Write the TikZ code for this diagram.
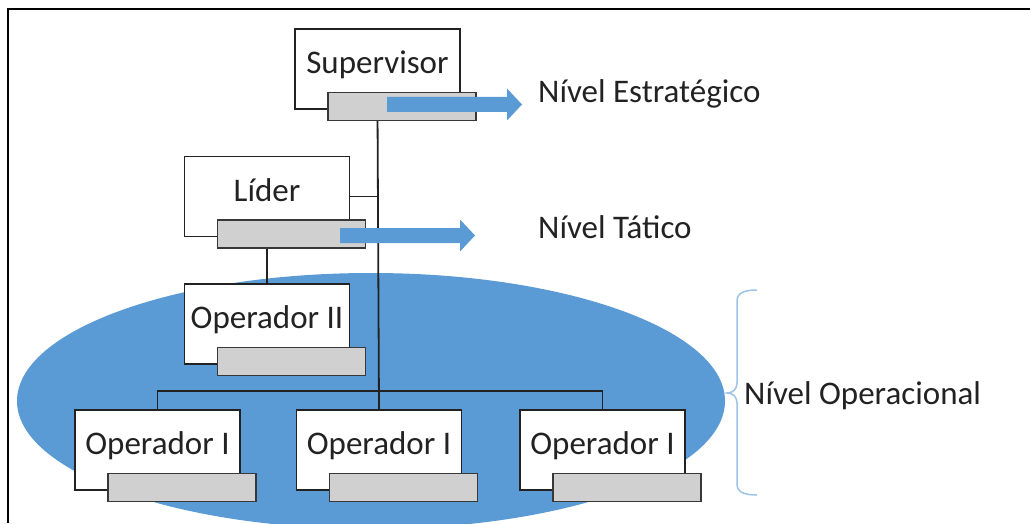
\documentclass[tikz,border=0pt]{standalone}
\usepackage{fontspec}
\setmainfont{Carlito}
\usetikzlibrary{positioning}
\definecolor{levelblue}{HTML}{5B9BD5}
\definecolor{bracecol}{HTML}{9DC3E6}
\definecolor{bargray}{HTML}{D0D0D0}
\definecolor{inkgray}{HTML}{222222}
\tikzset {
    node distance=55pt,
    every node/.style={font=\fontsize{33}{40}\selectfont, text=inkgray},
    post/.style={draw=inkgray, line width=1.5pt, fill=white, minimum width=165pt,
        minimum height=80pt, inner sep=2pt, text height=24pt, text depth=15pt},
    bar/.style={draw=inkgray!90, line width=1.6pt, fill=bargray,
        minimum width=148pt, minimum height=28pt, inner sep=0pt},
    link/.style={draw=inkgray, line width=1.8pt},
    level/.style={inner sep=0pt, anchor=base west},
    pics/levelarrow/.style={code={
        \fill[levelblue] (0,-7.5) -- (120,-7.5) -- (120,-16) -- (135,0)
            -- (120,16) -- (120,7.5) -- (0,7.5) -- cycle;}}
}

\begin{document}
\begin{tikzpicture}[x=1pt, y=1pt]
                        \useasboundingbox (0,0) rectangle (1030,523);
                        \fill[levelblue] (371,122) ellipse [x radius=354, y radius=128];
                        \draw[line width=2pt, black] (1030,514) -- (8,514) -- (8,0);

                        \node[post] (sup) at (377.5,454) {Supervisor};
                        \node[post] (lid) at (267,326.5) {Líder};
                        \node[post, below=46pt of lid] (op2) {Operador II};
                        \node[post] (opA) at (157.5,73) {Operador I};
                        \node[post, right=of opA] (opB) {Operador I};
                        \node[post, right=57pt of opB] (opC) {Operador I};

                        \draw[link] (sup.south) -- (opB.north);
                        \draw[link] (lid.east) -- (lid.east -| sup.south);
                        \draw[link] (lid.south) -- (op2.north);
                        \draw[link] (opA.north) -- ++(0,18) -| (opC.north);

                        \foreach \n in {sup, lid, op2, opA, opB, opC}
                            \node[bar, anchor=north east] (\n bar) at ([shift={(16pt,18pt)}]\n.south east) {};

                        \pic at (387,418.5) {levelarrow};
                        \pic at (340,287.5) {levelarrow};

                        \node[level] (strat) at (538,420) {Nível Estratégico};
                        \node[level] (tat) at (538,285) {Nível Tático};
                        \node[level] (oper) at (744,118.5) {Nível Operacional};

                        \draw[bracecol, line width=1.5pt]
                            (757,233) .. controls (744,233) and (737,230) .. (737,222)
                            -- (737,140) .. controls (737,134) and (733,130) .. (727,130)
                            .. controls (733,130) and (737,126) .. (737,120)
                            -- (737,39) .. controls (737,31) and (744,28) .. (757,28);
                    \end{tikzpicture}
\end{document}
